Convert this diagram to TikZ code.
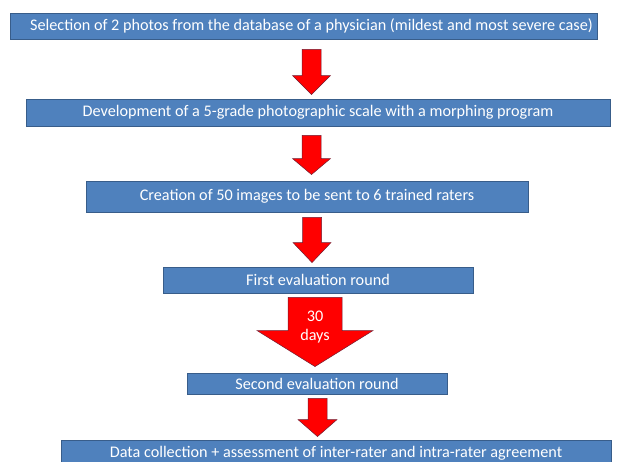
\documentclass[tikz,border=0pt]{standalone}
\usepackage{fontspec}
\setmainfont{Carlito}
\usepackage{tikz}
\usetikzlibrary{calc}

\definecolor{boxblue}{RGB}{79,129,189}
\definecolor{boxedge}{RGB}{56,93,138}
\definecolor{arrowedge}{RGB}{110,30,50}

\tikzset{
    stepbox/.style={draw=boxedge, line width=0.9pt, fill=boxblue, text=white,
        inner sep=0pt, font=\fontsize{16.2}{19}\selectfont},
    fatarrow/.style={draw=arrowedge, line width=0.5pt, fill=red, line join=miter},
}

% from, to, x, shaft half width, head half width, head length, top gap, bottom gap
\newcommand{\redarrow}[8]{%
    \draw [fatarrow] let \p1 = (#1.south), \p2 = (#2.north) in
        (#3pt-#4pt, \y1-#7pt) -- (#3pt+#4pt, \y1-#7pt)
        -- (#3pt+#4pt, \y2+#8pt+#6pt) -- (#3pt+#5pt, \y2+#8pt+#6pt)
        -- (#3pt, \y2+#8pt)
        -- (#3pt-#5pt, \y2+#8pt+#6pt) -- (#3pt-#4pt, \y2+#8pt+#6pt) -- cycle;
}

\begin{document}
\begin{tikzpicture}[x=1pt, y=1pt]
    \useasboundingbox (0, 0) rectangle (620, -462);
    % 流程框
    \node [stepbox, minimum width=587pt, minimum height=26pt] (b1) at (303.5, -26)
        {\hspace*{16pt}Selection of 2 photos from the database of a physician (mildest and most severe case)};
    \node [stepbox, minimum width=584pt, minimum height=27pt] (b2) at (318, -112.5)
        {Development of a 5-grade photographic scale with a morphing program};
    \node [stepbox, minimum width=442pt, minimum height=31pt] (b3) at (307, -196.5)
        {Creation of 50 images to be sent to 6 trained raters};
    \node [stepbox, minimum width=310pt, minimum height=26pt] (b4) at (318, -280)
        {First evaluation round};
    \node [stepbox, minimum width=260pt, minimum height=21pt] (b5) at (317, -383.5)
        {Second evaluation round};
    \node [stepbox, minimum width=550pt, minimum height=26pt] (b6) at (336, -453)
        {Data collection + assessment of inter-rater and intra-rater agreement};

    % 箭头
    \redarrow{b1}{b2}{311.5}{9.5}{19}{19}{10}{4}
    \redarrow{b2}{b3}{311.5}{9.5}{19}{16}{9}{6}
    \redarrow{b3}{b4}{312}{9.5}{19}{20}{5}{4}
    \redarrow{b4}{b5}{315}{27}{58}{36}{4}{6}
    \redarrow{b5}{b6}{317.5}{9.5}{19.5}{17}{4}{3}
    \node [text=white, align=center, font=\fontsize{16.2}{19}\selectfont] (days) at (315, -327) {30\\days};
\end{tikzpicture}
\end{document}
